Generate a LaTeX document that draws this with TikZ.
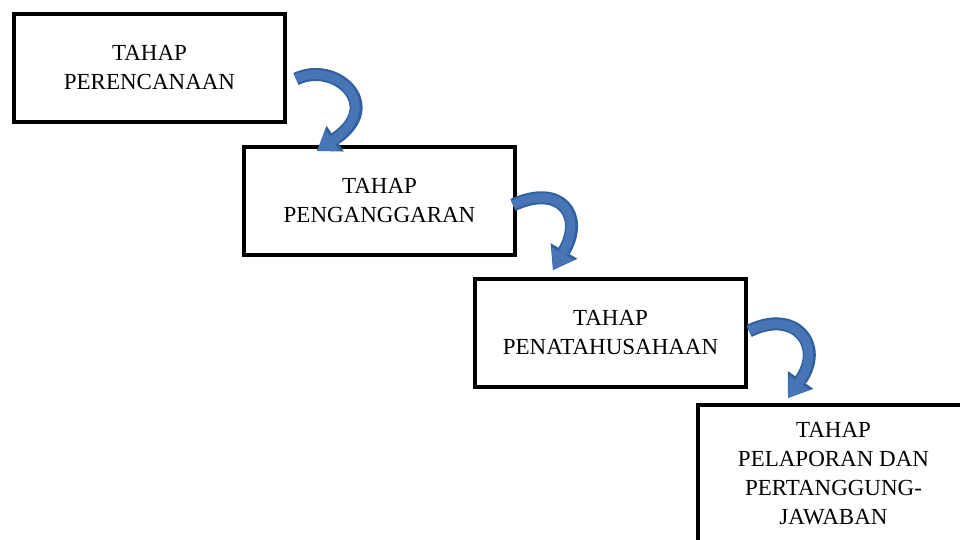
\documentclass[tikz,border=0pt]{standalone}
\usepackage{fontspec}
\setmainfont{Liberation Serif}
\usetikzlibrary{positioning,calc,arrows.meta}
\tikzset{font=\fontsize{23}{29}\selectfont}
\definecolor{arrowfill}{HTML}{4775B5}
\definecolor{arrowline}{HTML}{30609D}

\begin{document}
\begin{tikzpicture}[x=1pt,y=-1pt,
    stage/.style={draw,line width=4pt,minimum width=271pt,minimum height=108pt,align=center,inner sep=0pt},
    flow/.style={line width=9pt,draw=arrowfill,-{Triangle[length=19pt,width=25pt,line width=0pt]},
      preaction={draw=arrowline,line width=13pt,-{Triangle[length=22pt,width=31pt,line width=0pt]}}}]
    \clip (0,0) rectangle (960,540);

    \node[stage,anchor=north west] (perencanaan) at (12,12) {TAHAP\\PERENCANAAN};
    \node[stage,below right=21pt and -45pt of perencanaan.south east] (penganggaran) {TAHAP\\PENGANGGARAN};
    \node[stage,below right=20pt and -44pt of penganggaran.south east] (penatausahaan) {TAHAP\\PENATAHUSAHAAN};
    \node[stage,inner ysep=17pt,below right=14pt and -52pt of penatausahaan.south east] (pelaporan) {TAHAP\\PELAPORAN DAN\\PERTANGGUNG-\\JAWABAN};

    % curved arrows from one stage to the next
    \draw[flow] ($(perencanaan.east)+(9,11)$) .. controls ($(perencanaan.east)+(48,-8)$) and ($(penganggaran.north west)+(143,-40)$) .. ($(penganggaran.north west)+(75,6)$);
    \draw[flow] ($(penganggaran.east)+(-4,4)$) .. controls ($(penganggaran.east)+(43,-18)$) and ($(penatausahaan.north west)+(112,-62)$) .. ($(penatausahaan.north west)+(80,-7)$);
    \draw[flow] ($(penatausahaan.east)+(1,-2)$) .. controls ($(penatausahaan.east)+(47,-25)$) and ($(pelaporan.north west)+(129,-58)$) .. ($(pelaporan.north west)+(92,-5)$);
  \end{tikzpicture}
\end{document}
